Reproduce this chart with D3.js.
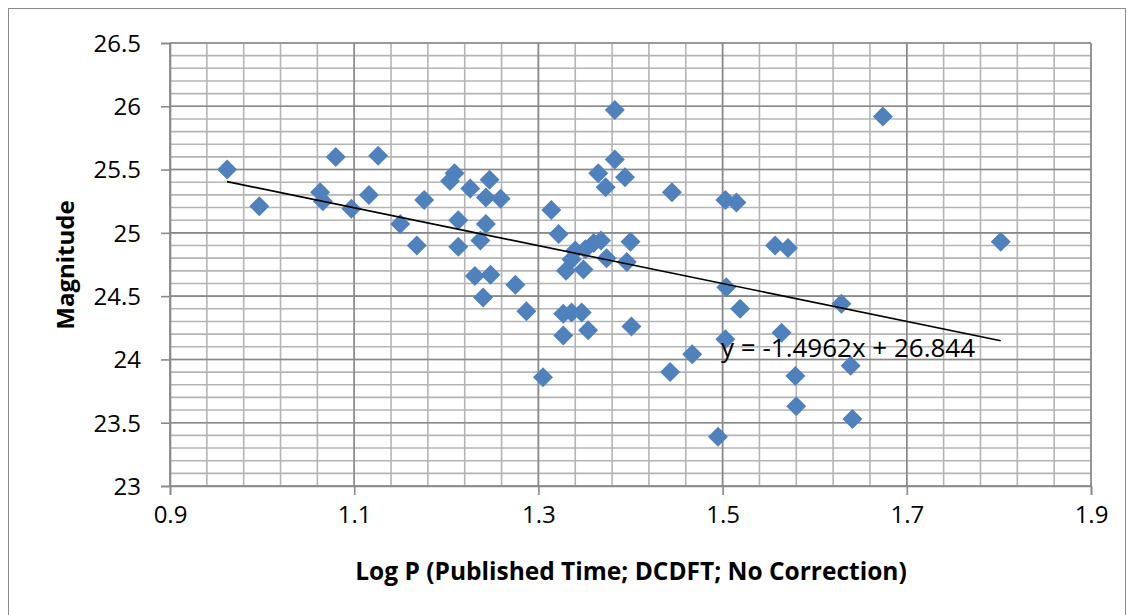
<!DOCTYPE html>
<html>
<head>
<meta charset="utf-8">
<title>Magnitude vs Log P</title>
<style>
    body { margin: 0; background: #fff; }
    svg text { font-family: "Open Sans", "Liberation Sans", sans-serif; fill: #000; }
</style>
</head>
<body>
<svg id="grafico" width="1133" height="615"></svg>
<script src="https://d3js.org/d3.v7.min.js"></script>
<script>
    // valores
    var logP = [0.962, 0.997, 1.063, 1.066, 1.080, 1.097, 1.116, 1.126, 1.150, 1.168,
        1.176, 1.204, 1.209, 1.226, 1.247, 1.243, 1.259, 1.213, 1.243, 1.213,
        1.237, 1.231, 1.248, 1.240, 1.275, 1.287, 1.314, 1.322, 1.365, 1.383,
        1.394, 1.373, 1.383, 1.340, 1.351, 1.360, 1.368, 1.400, 1.336, 1.330,
        1.349, 1.374, 1.396, 1.327, 1.336, 1.347, 1.327, 1.354, 1.401, 1.305,
        1.445, 1.503, 1.515, 1.557, 1.571, 1.504, 1.519, 1.629, 1.564, 1.503,
        1.467, 1.443, 1.639, 1.579, 1.580, 1.641, 1.495, 1.674, 1.802];
    var magnitude = [25.50, 25.21, 25.32, 25.25, 25.60, 25.19, 25.30, 25.61, 25.07, 24.90,
        25.26, 25.41, 25.47, 25.35, 25.42, 25.28, 25.27, 25.10, 25.07, 24.89,
        24.94, 24.66, 24.67, 24.49, 24.59, 24.38, 25.18, 24.99, 25.47, 25.58,
        25.44, 25.36, 25.97, 24.86, 24.87, 24.92, 24.94, 24.93, 24.79, 24.70,
        24.71, 24.80, 24.77, 24.36, 24.37, 24.37, 24.19, 24.23, 24.26, 23.86,
        25.32, 25.26, 25.24, 24.90, 24.88, 24.57, 24.40, 24.44, 24.21, 24.16,
        24.04, 23.90, 23.95, 23.87, 23.63, 23.53, 23.39, 25.92, 24.93];
    var xTicks = [0.9, 1.1, 1.3, 1.5, 1.7, 1.9];
    var yTicks = [23, 23.5, 24, 24.5, 25, 25.5, 26, 26.5];
    var slope = -1.4962;
    var intercept = 26.844;
    var equacao = "y = -1.4962x + 26.844";

    var svg = d3.select("#grafico");

    // borda externa do gráfico
    svg.append("rect")
        .attr("x", 8.5).attr("y", 8.5)
        .attr("width", 1117).attr("height", 640)
        .attr("fill", "none")
        .attr("stroke", "#8c8c8c")
        .attr("stroke-width", 1);

    var x = d3.scaleLinear().domain([0.9, 1.9]).range([170, 1091]);
    var y = d3.scaleLinear().domain([23, 26.5]).range([486, 43]);

    // grade secundária
    var xMinor = d3.range(0, 26).map(function (i) { return 0.9 + i * 0.04; });
    var yMinor = d3.range(0, 36).map(function (i) { return 23 + i * 0.1; });

    var grade = svg.append("g");
    grade.selectAll(".vmin")
        .data(xMinor)
        .enter()
        .append("line")
        .attr("x1", function (d) { return x(d); })
        .attr("x2", function (d) { return x(d); })
        .attr("y1", y(23)).attr("y2", y(26.5))
        .attr("stroke", "#b4b4b4").attr("stroke-width", 1.6);
    grade.selectAll(".hmin")
        .data(yMinor)
        .enter()
        .append("line")
        .attr("x1", x(0.9)).attr("x2", x(1.9))
        .attr("y1", function (d) { return y(d); })
        .attr("y2", function (d) { return y(d); })
        .attr("stroke", "#b4b4b4").attr("stroke-width", 1.6);

    // grade principal
    grade.selectAll(".vmaj")
        .data(xTicks)
        .enter()
        .append("line")
        .attr("x1", function (d) { return x(d); })
        .attr("x2", function (d) { return x(d); })
        .attr("y1", y(23)).attr("y2", y(26.5))
        .attr("stroke", "#8a8a8a").attr("stroke-width", 1.6);
    grade.selectAll(".hmaj")
        .data(yTicks)
        .enter()
        .append("line")
        .attr("x1", x(0.9)).attr("x2", x(1.9))
        .attr("y1", function (d) { return y(d); })
        .attr("y2", function (d) { return y(d); })
        .attr("stroke", "#8a8a8a").attr("stroke-width", 1.6);

    // eixos
    var eixoX = d3.axisBottom(x).tickValues(xTicks).tickSize(9).tickPadding(11)
        .tickFormat(function (d) { return d3.format(".1f")(d); });
    var eixoY = d3.axisLeft(y).tickValues(yTicks).tickSize(9).tickPadding(20)
        .tickFormat(function (d) { return String(d); });

    var gx = svg.append("g").attr("transform", "translate(0," + y(23) + ")").call(eixoX);
    var gy = svg.append("g").attr("transform", "translate(" + x(0.9) + ",0)").call(eixoY);
    [gx, gy].forEach(function (g) {
        g.select(".domain").attr("stroke", "#8a8a8a").attr("stroke-width", 1.6);
        g.selectAll(".tick line").attr("stroke", "#8a8a8a").attr("stroke-width", 1.6);
        g.selectAll(".tick text").style("font-size", "24px").attr("fill", "#000");
    });
    gy.selectAll(".tick text").attr("dy", "0.35em");

    // pontos (losangos)
    var losango = d3.symbol().type(d3.symbolSquare).size(200);
    svg.append("g")
        .selectAll("path")
        .data(logP)
        .enter()
        .append("path")
        .attr("d", losango)
        .attr("transform", function (d, i) {
            return "translate(" + x(d) + "," + y(magnitude[i]) + ") rotate(45)";
        })
        .attr("fill", "#4f81bd");

    // linha de tendência
    var xMin = d3.min(logP), xMax = d3.max(logP);
    svg.append("line")
        .attr("x1", x(xMin)).attr("y1", y(slope * xMin + intercept))
        .attr("x2", x(xMax)).attr("y2", y(slope * xMax + intercept))
        .attr("stroke", "#000").attr("stroke-width", 1.6);

    svg.append("text")
        .attr("x", 721).attr("y", 357)
        .style("font-size", "26px")
        .text(equacao);

    // títulos dos eixos
    svg.append("text")
        .attr("x", 631).attr("y", 580)
        .attr("text-anchor", "middle")
        .style("font-size", "24.5px").style("font-weight", "bold")
        .text("Log P (Published Time; DCDFT; No Correction)");

    svg.append("text")
        .attr("transform", "translate(74,265) rotate(-90)")
        .attr("text-anchor", "middle")
        .style("font-size", "24px").style("font-weight", "bold")
        .text("Magnitude");
</script>
</body>
</html>
